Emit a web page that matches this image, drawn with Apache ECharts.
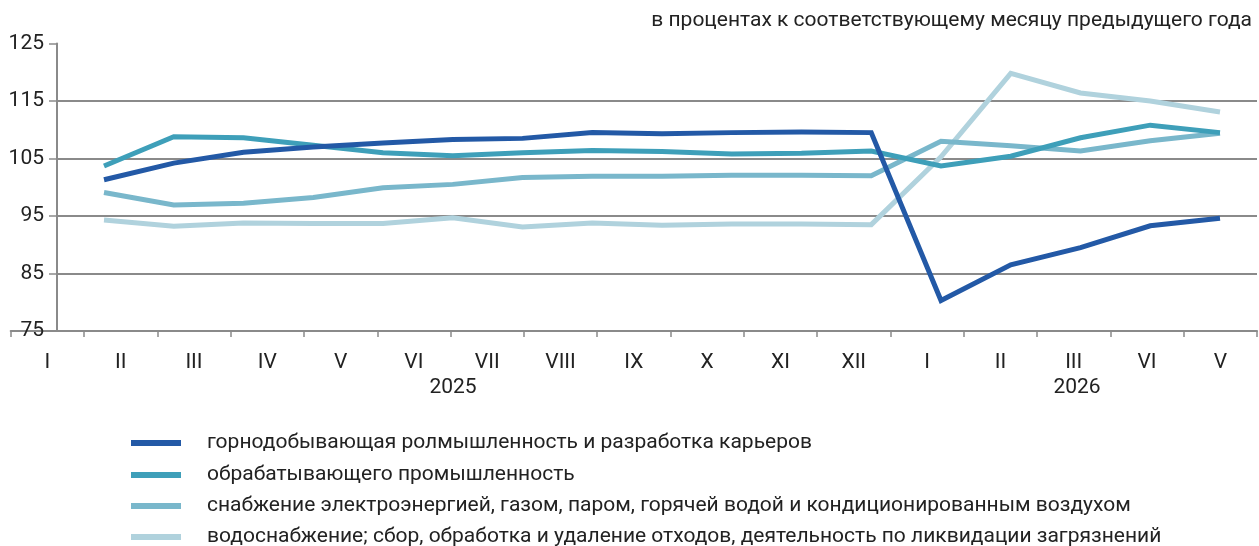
<!DOCTYPE html>
<html>
<head>
<meta charset="utf-8">
<script src="https://cdn.jsdelivr.net/npm/echarts@6/dist/echarts.min.js"></script>
<style>
  html, body { margin: 0; padding: 0; background: #fff; }
  #chart { width: 1259px; height: 546px; }
</style>
</head>
<body>
<div id="chart"></div>
<script>
// month labels along the axis (2025: I..XII, 2026: I..V)
var months = ['I', 'II', 'III', 'IV', 'V', 'VI', 'VII', 'VIII', 'IX', 'X', 'XI', 'XII', 'I', 'II', 'III', 'VI', 'V'];
var yTicks = [75, 85, 95, 105, 115, 125];
var years = ['2025', '2026'];

var seriesNames = [
  'горнодобывающая ролмышленность и разработка карьеров',
  'обрабатывающего промышленность',
  'снабжение электроэнергией, газом, паром, горячей водой и кондиционированным воздухом',
  'водоснабжение; сбор, обработка и удаление отходов, деятельность по ликвидации загрязнений'
];
var mining = [101.3, 104.2, 106.1, 107.0, 107.7, 108.3, 108.5, 109.5, 109.3, 109.5, 109.6, 109.5, 80.3, 86.5, 89.5, 93.3, 94.6];
var manufacturing = [103.7, 108.8, 108.6, 107.3, 106.0, 105.5, 106.0, 106.4, 106.2, 105.8, 105.9, 106.3, 103.7, 105.4, 108.6, 110.8, 109.5];
var energy = [99.1, 96.9, 97.2, 98.2, 99.9, 100.5, 101.7, 101.9, 101.9, 102.1, 102.1, 102.0, 108.0, 107.2, 106.3, 108.1, 109.4];
var water = [94.3, 93.2, 93.8, 93.7, 93.7, 94.7, 93.1, 93.8, 93.4, 93.6, 93.6, 93.5, 105.3, 119.8, 116.4, 115.0, 113.1];
var colors = ['#2359a6', '#3e9fb9', '#79b7cb', '#b0d2dd'];

var chart = echarts.init(document.getElementById('chart'), null, { renderer: 'canvas' });

var font = 'Roboto, "Noto Sans", sans-serif';
var gridTop = 43.5;
var gridBottom = 215;
var values = [mining, manufacturing, energy, water];
var legendRows = [443, 475, 506, 537];

var option = {
  animation: false,
  color: colors,
  textStyle: { fontFamily: font },
  grid: [
    // y axis + gridlines
    { left: 57, right: 2, top: gridTop, bottom: gridBottom },
    // month axis
    { left: 10.7, right: 2, top: gridTop, bottom: gridBottom },
    // lines
    { left: 104, right: 39, top: gridTop, bottom: gridBottom }
  ],
  xAxis: [
    { gridIndex: 0, type: 'category', data: months, show: false },
    {
      gridIndex: 1, type: 'category', data: months, boundaryGap: true,
      axisLine: { lineStyle: { color: '#8a8a8a', width: 2 } },
      axisTick: { show: true, length: 6, lineStyle: { color: '#8a8a8a', width: 1.5 } },
      axisLabel: { color: '#222', fontSize: 21, margin: 21, fontFamily: font, interval: 0 }
    },
    { gridIndex: 2, type: 'category', data: months, boundaryGap: false, show: false }
  ],
  yAxis: [
    {
      gridIndex: 0, type: 'value', min: yTicks[0], max: yTicks[yTicks.length - 1], interval: 10,
      axisLine: { show: true, lineStyle: { color: '#8a8a8a', width: 2 } },
      axisTick: { show: true, length: 8, lineStyle: { color: '#8a8a8a', width: 1.5 } },
      axisLabel: { color: '#222', fontSize: 21, margin: 13, fontFamily: font, padding: [0, 0, 6, 0] },
      splitLine: { show: true, showMaxLine: false, lineStyle: { color: '#8a8a8a', width: 2 } }
    },
    { gridIndex: 1, type: 'value', min: 75, max: 125, show: false, splitLine: { show: false } },
    { gridIndex: 2, type: 'value', min: 75, max: 125, show: false, splitLine: { show: false } }
  ],
  // one legend per row so the long names stay in one column
  legend: seriesNames.map(function(name, i) {
    return {
      orient: 'vertical',
      left: 131,
      top: legendRows[i] - 12,
      padding: 0,
      itemWidth: 50,
      itemHeight: 6,
      icon: 'rect',
      data: [name],
      textStyle: { color: '#222', fontSize: 21, lineHeight: 24, fontFamily: font, padding: [0, 0, 0, 21] }
    };
  }),
  graphic: [
    {
      type: 'text', right: 7, top: 10,
      style: { text: 'в процентах к соответствующему месяцу предыдущего года', fill: '#222', font: '21px ' + font }
    },
    {
      type: 'text', x: 453, y: 388,
      style: { text: years[0], fill: '#222', font: '21px ' + font, align: 'center', verticalAlign: 'middle' }
    },
    {
      type: 'text', x: 1077, y: 388,
      style: { text: years[1], fill: '#222', font: '21px ' + font, align: 'center', verticalAlign: 'middle' }
    }
  ],
  series: seriesNames.map(function(name, i) {
    return {
      name: name,
      type: 'line',
      xAxisIndex: 2,
      yAxisIndex: 2,
      data: values[i],
      showSymbol: false,
      symbol: 'none',
      lineStyle: { width: 5, color: colors[i], join: 'miter' },
      z: 10 - i
    };
  })
};

chart.setOption(option);
</script>
</body>
</html>
